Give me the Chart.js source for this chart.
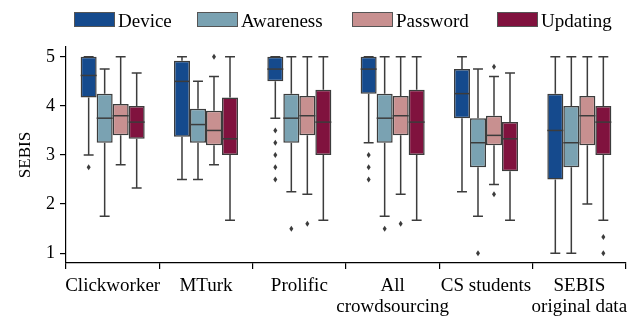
<!DOCTYPE html>
<html>
<head>
<meta charset="utf-8">
<script src="https://cdn.jsdelivr.net/npm/chart.js@4"></script>
<style>
  html, body { margin: 0; padding: 0; background: #ffffff; }
  canvas { display: block; }
</style>
</head>
<body>
<canvas id="c" width="638" height="320"></canvas>
<script>
// Categories (x axis)
const categories = [
  ['Clickworker'], ['MTurk'], ['Prolific'],
  ['All', 'crowdsourcing'], ['CS students'], ['SEBIS', 'original data']
];
const seriesNames = ['Device', 'Awareness', 'Password', 'Updating'];
const seriesColors = ['#154a8d', '#7aa2b2', '#c89090', '#80123e'];
const yTicks = [1, 2, 3, 4, 5];

// Box statistics per category: [whiskerLow, Q1, median, Q3, whiskerHigh]
const device = [
  [3.0, 4.17, 4.62, 5.0, 5.0],
  [2.5, 3.37, 4.5, 4.92, 5.0],
  [3.75, 4.5, 4.75, 5.0, 5.0],
  [3.25, 4.25, 4.75, 5.0, 5.0],
  [2.25, 3.75, 4.25, 4.75, 5.0],
  [1.0, 2.5, 3.5, 4.25, 5.0]
];
const deviceOutliers = [[2.75], [], [3.5, 3.25, 3.0, 2.75, 2.5], [3.0, 2.75, 2.5], [], []];

const awareness = [
  [1.75, 3.25, 3.75, 4.25, 4.75],
  [2.5, 3.25, 3.62, 3.94, 4.5],
  [2.25, 3.25, 3.75, 4.25, 5.0],
  [1.75, 3.25, 3.75, 4.25, 5.0],
  [1.75, 2.75, 3.25, 3.75, 4.75],
  [1.0, 2.75, 3.25, 4.0, 5.0]
];
const awarenessOutliers = [[], [], [1.5], [1.5], [1.0], []];

const password = [
  [2.8, 3.4, 3.8, 4.04, 5.0],
  [2.8, 3.2, 3.5, 3.9, 4.6],
  [2.2, 3.4, 3.8, 4.2, 5.0],
  [2.2, 3.4, 3.8, 4.2, 5.0],
  [2.4, 3.2, 3.4, 3.8, 4.6],
  [2.0, 3.2, 3.8, 4.2, 5.0]
];
const passwordOutliers = [[], [5.0], [1.6], [1.6], [4.8, 2.2], []];

const updating = [
  [2.33, 3.33, 3.67, 4.0, 4.67],
  [1.67, 3.0, 3.33, 4.17, 5.0],
  [1.67, 3.0, 3.67, 4.33, 5.0],
  [1.67, 3.0, 3.67, 4.33, 5.0],
  [1.67, 2.67, 3.33, 3.67, 4.67],
  [1.67, 3.0, 3.67, 4.0, 5.0]
];
const updatingOutliers = [[], [], [], [], [], [1.33, 1.0]];

const allStats = [device, awareness, password, updating];
const allOutliers = [deviceOutliers, awarenessOutliers, passwordOutliers, updatingOutliers];

const LINE = '#3c3c3c';
const SERIF = '"Liberation Serif", "Times New Roman", serif';

const datasets = seriesNames.map((name, si) => ({
  label: name,
  data: allStats[si].map(s => [s[1], s[3]]),
  backgroundColor: seriesColors[si],
  borderColor: LINE,
  borderWidth: 1.5,
  borderSkipped: false
}));

const boxPlugin = {
  id: 'boxExtras',
  afterDatasetsDraw(chart) {
    const ctx = chart.ctx;
    const ys = chart.scales.y;
    ctx.save();
    ctx.strokeStyle = LINE;
    ctx.fillStyle = LINE;
    ctx.lineWidth = 1.5;
    chart.data.datasets.forEach((ds, di) => {
      const meta = chart.getDatasetMeta(di);
      meta.data.forEach((bar, i) => {
        const p = bar.getProps(['x', 'width'], true);
        const x = p.x;
        const hw = p.width / 2;
        const cap = hw * 0.62;
        const s = allStats[di][i];
        const yLo = ys.getPixelForValue(s[0]);
        const yQ1 = ys.getPixelForValue(s[1]);
        const yMed = ys.getPixelForValue(s[2]);
        const yQ3 = ys.getPixelForValue(s[3]);
        const yHi = ys.getPixelForValue(s[4]);
        ctx.beginPath();
        // whiskers
        ctx.moveTo(x, yQ1); ctx.lineTo(x, yLo);
        ctx.moveTo(x, yQ3); ctx.lineTo(x, yHi);
        // caps
        ctx.moveTo(x - cap, yLo); ctx.lineTo(x + cap, yLo);
        ctx.moveTo(x - cap, yHi); ctx.lineTo(x + cap, yHi);
        ctx.stroke();
        // median
        ctx.beginPath();
        ctx.moveTo(x - hw, yMed); ctx.lineTo(x + hw, yMed);
        ctx.stroke();
        // outliers (diamonds)
        allOutliers[di][i].forEach(v => {
          const oy = ys.getPixelForValue(v);
          ctx.beginPath();
          ctx.moveTo(x, oy - 3);
          ctx.lineTo(x + 2, oy);
          ctx.lineTo(x, oy + 3);
          ctx.lineTo(x - 2, oy);
          ctx.closePath();
          ctx.fill();
        });
      });
    });
    ctx.restore();
  },
  afterDraw(chart) {
    // legend
    const ctx = chart.ctx;
    const legendX = [74, 197, 352, 497];
    ctx.save();
    ctx.font = '19px ' + SERIF;
    ctx.textBaseline = 'alphabetic';
    ctx.textAlign = 'left';
    chart.data.datasets.forEach((ds, di) => {
      const bx = legendX[di];
      ctx.fillStyle = ds.backgroundColor;
      ctx.fillRect(bx, 12.5, 41, 14);
      ctx.strokeStyle = '#555555';
      ctx.lineWidth = 1;
      ctx.strokeRect(bx + 0.5, 12.5, 40, 14);
      ctx.fillStyle = '#000000';
      ctx.fillText(ds.label, bx + 44, 26.5);
    });
    ctx.restore();
  }
};

new Chart(document.getElementById('c'), {
  type: 'bar',
  data: { labels: categories, datasets },
  options: {
    responsive: false,
    devicePixelRatio: 1,
    animation: false,
    categoryPercentage: 0.686,
    barPercentage: 1.0,
    layout: { padding: { top: 47, right: 12, left: 0, bottom: 0 } },
    plugins: { legend: { display: false }, tooltip: { enabled: false } },
    scales: {
      x: {
        grid: { display: true, drawOnChartArea: false, drawTicks: true, tickLength: 6, color: '#000', lineWidth: 1.2 },
        border: { display: true, color: '#000', width: 1.2 },
        ticks: { color: '#000', font: { family: SERIF, size: 19, lineHeight: 1.08 }, padding: 7, maxRotation: 0, autoSkip: false },
        afterFit(scale) { scale.height = 57; }
      },
      y: {
        min: 0.8,
        max: 5.2,
        afterBuildTicks(scale) { scale.ticks = yTicks.map(v => ({ value: v })); },
        grid: { display: true, drawOnChartArea: false, drawTicks: true, tickLength: 6, color: '#000', lineWidth: 1.2 },
        border: { display: true, color: '#000', width: 1.2 },
        ticks: { color: '#000', font: { family: SERIF, size: 18 }, padding: 5 },
        title: { display: true, text: 'SEBIS', color: '#000', font: { family: SERIF, size: 17 }, padding: { top: 15, bottom: 0 } },
        afterFit(scale) { scale.width = 66; }
      }
    }
  },
  plugins: [boxPlugin]
});
</script>
</body>
</html>
